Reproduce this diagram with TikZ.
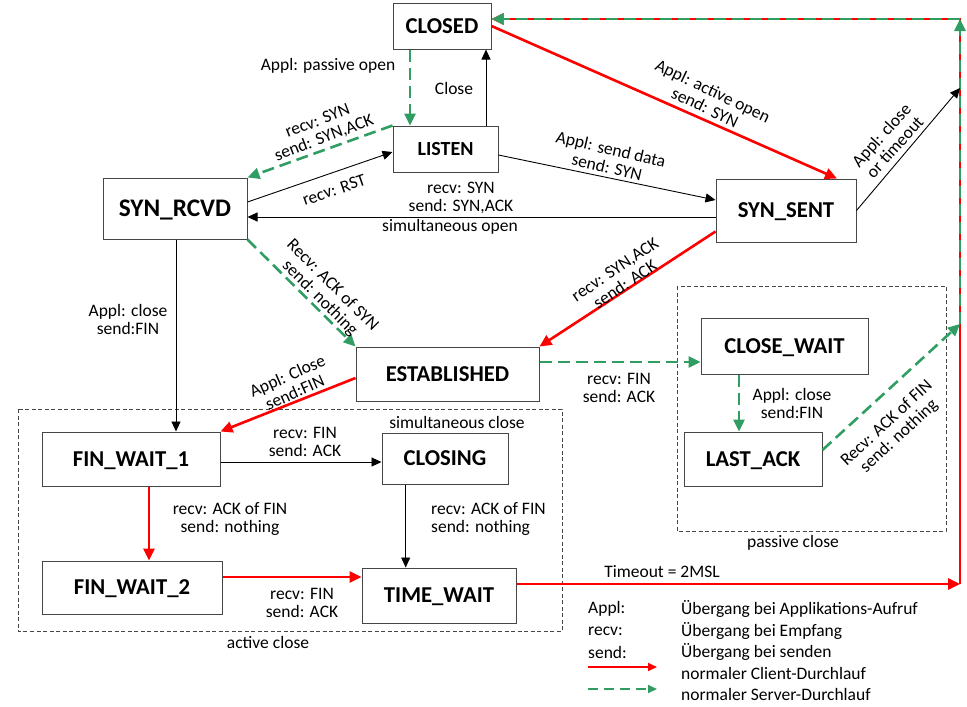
\documentclass[tikz,border=0pt]{standalone}
\usepackage{fontspec}
\setmainfont{Carlito}
\usetikzlibrary{arrows.meta,calc}
\definecolor{srvgreen}{RGB}{48,158,98}
\definecolor{clired}{RGB}{255,0,0}
\definecolor{boxgray}{RGB}{70,70,70}
\begin{document}
\begin{tikzpicture}[x=1pt,y=-1pt,
  state/.style={draw=boxgray, line width=1pt, fill=white, inner sep=0pt,
    font=\fontsize{22.7}{24}\selectfont\bfseries, text height=14.6pt, text depth=0pt},
  lbl/.style={font=\fontsize{17.5}{18}\selectfont, inner sep=0pt, align=center},
  blk/.style={draw=black, line width=0.9pt, -{Triangle[length=10pt,width=9pt]}},
  cli/.style={draw=clired, line width=2.6pt, -{Triangle[length=12pt,width=11pt]}},
  srv/.style={draw=srvgreen, line width=2.6pt, dash pattern=on 12pt off 6pt, -{Triangle[length=12pt,width=11pt]}},
  grp/.style={draw=boxgray, line width=0.9pt, dash pattern=on 4pt off 2.5pt}]
\useasboundingbox (0,0) rectangle (967,707);

% group boxes
\draw[grp] (18,409) rectangle (562,631);
\draw[grp] (677,286) rectangle (946,531);

% states
\node[state, minimum width=98, minimum height=46] (closed) at (442,26) {CLOSED};
\node[state, minimum width=105, minimum height=46, font=\fontsize{20}{22}\selectfont\bfseries, text height=12.9pt] (listen) at (445.5,149) {LISTEN};
\node[state, minimum width=144, minimum height=61, font=\fontsize{25.3}{27}\selectfont\bfseries, text height=16.3pt] (synrcvd) at (175,208.5) {SYN\_RCVD};
\node[state, minimum width=140, minimum height=63] (synsent) at (786,210.5) {SYN\_SENT};
\node[state, minimum width=183, minimum height=54] (estab) at (447.5,374) {ESTABLISHED};
\node[state, minimum width=167, minimum height=56] (closewait) at (784.5,346) {CLOSE\_WAIT};
\node[state, minimum width=138, minimum height=54] (lastack) at (753,459) {LAST\_ACK};
\node[state, minimum width=178, minimum height=54] (fw1) at (131,459) {FIN\_WAIT\_1};
\node[state, minimum width=126, minimum height=51] (closing) at (445,458.5) {CLOSING};
\node[state, minimum width=180, minimum height=53] (fw2) at (132,587.5) {FIN\_WAIT\_2};
\node[state, minimum width=154, minimum height=55] (tw) at (439,595.5) {TIME\_WAIT};

% helper coordinates on the right line
\coordinate (cTO) at (960,584);
\coordinate (cLA) at (960,324);
\coordinate (cAC) at (960,88);
\coordinate (cTop) at (960,19);

% red return path (under green)
\draw[cli] ([yshift=11.5]tw.east) -- (cTO);
\draw[cli] (cTO) -- (cTop) -- (cTop -| closed.east);

% green return path
\draw[srv] ([yshift=9]lastack.east) -- (cLA);
\draw[srv] (cLA) -- (cTop);
\draw[srv] (cTop) -- (cTop -| closed.east);

% connectors
\draw[srv] ([xshift=-32]closed.south) -- ([xshift=-32]closed.south |- listen.north);
\draw[blk] ([xshift=40.5]listen.north) -- ([xshift=40.5]listen.north |- closed.south);
\draw[cli] (closed.east) -- ([xshift=51]synsent.north);
\draw[blk] ([yshift=-6]listen.east) -- ([yshift=10.5]synsent.west);
\draw[srv] (listen.north west) -- (synrcvd.north east);
\draw[blk] ([yshift=6.5]synrcvd.east) -- ([yshift=-3]listen.west);
\draw[blk] ([yshift=-6.5]synsent.west) -- ([yshift=-6.5]synsent.west -| synrcvd.east);
\draw[blk] (synsent.east) -- (cAC);
\draw[srv] (synrcvd.south east) -- (estab.north west);
\draw[blk] ([xshift=1]synrcvd.south) -- ([xshift=1]synrcvd.south |- fw1.north);
\draw[cli] ([yshift=-21]synsent.west) -- (estab.north east);
\draw[srv] ([yshift=12]estab.east) -- ([yshift=12]estab.east -| closewait.west);
\draw[cli] ([yshift=-4]estab.west) -- (fw1.north east);
\draw[blk] ([yshift=-3]fw1.east) -- ([yshift=-3]fw1.east -| closing.west);
\draw[cli] ([xshift=18]fw1.south) -- ([xshift=18]fw1.south |- fw2.north);
\draw[blk] ([xshift=-39.3]closing.south) -- ([xshift=-39.3]closing.south |- tw.north);
\draw[cli] ([yshift=10.5]fw2.east) -- ([yshift=10.5]fw2.east -| tw.west);
\draw[srv] ([xshift=-45.5]closewait.south) -- ([xshift=-45.5]closewait.south |- lastack.north);

% labels
\node[lbl] (lPassive) at (328,66) {Appl: passive open};
\node[lbl] (lClose) at (454,88) {Close};
\node[lbl, rotate=-25.5] (lActive) at (709,99) {Appl: active open\\send: SYN};
\node[lbl, rotate=-13] (lSendData) at (609,158) {Appl: send data\\send: SYN};
\node[lbl, rotate=48] (lTimeout) at (888,141) {Appl: close\\or timeout};
\node[lbl, rotate=21] (lRecvSyn) at (321,130) {recv: SYN\\send: SYN,ACK};
\node[lbl, rotate=19] (lRst) at (334,190) {recv: RST};
\node[lbl] (lSimOpenA) at (461,197.5) {recv: SYN\\send: SYN,ACK};
\node[lbl] (lSimOpenB) at (450,227) {simultaneous open};
\node[lbl, rotate=-45] (lAckSyn) at (326,292) {Recv: ACK of SYN\\send: nothing};
\node[lbl] (lRcvdClose) at (128,319) {Appl: close\\send:FIN};
\node[lbl, rotate=34] (lSynAck) at (620,277) {recv: SYN,ACK\\send: ACK};
\node[lbl, rotate=24] (lEstClose) at (291,384) {Appl: Close\\send:FIN};
\node[lbl] (lEstFin) at (619,388) {recv: FIN\\send: ACK};
\node[lbl] (lCwClose) at (792,403.5) {Appl: close\\send:FIN};
\node[lbl, rotate=43] (lLaAck) at (893,430) {Recv: ACK of FIN\\send: nothing};
\node[lbl] (lPassClose) at (793,543) {passive close};
\node[lbl] (lSimClose) at (457,422) {simultaneous close};
\node[lbl] (lFw1Fin) at (305,442) {recv: FIN\\send: ACK};
\node[lbl] (lFw1Ack) at (230,519) {recv: ACK of FIN\\send: nothing};
\node[lbl, align=left, anchor=west] (lClAck) at (431,519) {recv: ACK of FIN\\send: nothing};
\node[lbl] (lFw2Fin) at (302,602.5) {recv: FIN\\send: ACK};
\node[lbl] (lActClose) at (268,642) {active close};
\node[lbl] (lTimeout2) at (662,572) {Timeout = 2MSL};

% legend
\node[lbl, anchor=west] (kAppl) at (588,609) {Appl:};
\node[lbl, anchor=west] (kRecv) at (588,631) {recv:};
\node[lbl, anchor=west] (kSend) at (588,652) {send:};
\node[lbl, anchor=west] (vAppl) at (681,609) {Übergang bei Applikations-Aufruf};
\node[lbl, anchor=west] (vRecv) at (681,631) {Übergang bei Empfang};
\node[lbl, anchor=west] (vSend) at (681,652) {Übergang bei senden};
\node[lbl, anchor=west] (vCli) at (681,673) {normaler Client-Durchlauf};
\node[lbl, anchor=west] (vSrv) at (681,694) {normaler Server-Durchlauf};
\coordinate (kCliA) at (588,667);
\coordinate (kCliB) at (657,667);
\coordinate (kSrvA) at (588,689);
\coordinate (kSrvB) at (657,689);
\draw[draw=clired, line width=2pt, -{Triangle[length=9pt,width=8pt]}] (kCliA) -- (kCliB);
\draw[draw=srvgreen, line width=2pt, dash pattern=on 10pt off 6pt, -{Triangle[length=9pt,width=8pt]}] (kSrvA) -- (kSrvB);
\end{tikzpicture}
\end{document}
